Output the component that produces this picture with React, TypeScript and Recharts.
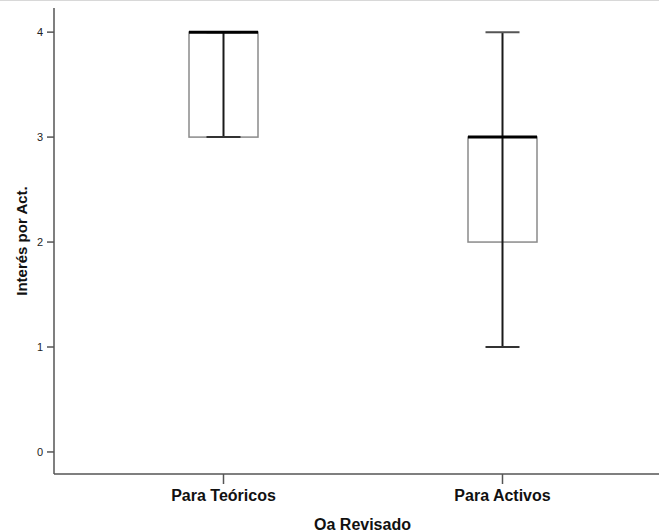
import React from 'react';
import { ComposedChart, Bar, XAxis, YAxis } from 'recharts';

const categories = ['Para Teóricos', 'Para Activos'];
const minValues = [3, 1];
const q1Values = [3, 2];
const medianValues = [4, 3];
const q3Values = [4, 3];
const maxValues = [4, 4];
const yTicks = [0, 1, 2, 3, 4];

const data = categories.map((name, i) => ({
  name,
  min: minValues[i],
  q1: q1Values[i],
  median: medianValues[i],
  q3: q3Values[i],
  max: maxValues[i],
  range: [minValues[i], maxValues[i]],
}));

const font = '"Liberation Sans", Arial, sans-serif';

// one box per category, positions derived from the range bar geometry
const BoxShape = (props: any) => {
  const { x, y, width, height, payload } = props;
  const { min, q1, median, q3, max } = payload;
  const span = max - min || 1;
  const toY = (v: number) => y + ((max - v) / span) * height;
  const cx = x + width / 2;
  const capHalf = 17;
  return (
    <g>
      <rect
        x={x}
        y={toY(q3)}
        width={width}
        height={toY(q1) - toY(q3)}
        fill="none"
        stroke="#8a8a8a"
        strokeWidth={1.5}
      />
      <line x1={cx} x2={cx} y1={toY(max)} y2={toY(min)} stroke="#1a1a1a" strokeWidth={2} />
      <line x1={cx - capHalf} x2={cx + capHalf} y1={toY(max)} y2={toY(max)} stroke="#555" strokeWidth={2} />
      <line x1={cx - capHalf} x2={cx + capHalf} y1={toY(min)} y2={toY(min)} stroke="#333" strokeWidth={2} />
      <line x1={x} x2={x + width} y1={toY(median)} y2={toY(median)} stroke="#000" strokeWidth={3} />
    </g>
  );
};

export default function App() {
  return (
    <div style={{ position: 'absolute', left: 0, top: 0, width: 659, height: 532, background: '#fff' }}>
      <div style={{ position: 'absolute', left: 0, top: 0, width: 659, height: 1, background: '#d8d8d8' }} />
      <ComposedChart
        width={659}
        height={532}
        data={data}
        margin={{ top: 8, right: 0, bottom: 0, left: 0 }}
      >
        <XAxis
          dataKey="name"
          type="category"
          height={58}
          padding={{ left: 30, right: 17 }}
          axisLine={{ stroke: '#555', strokeWidth: 1.5 }}
          tickLine={{ stroke: '#555', strokeWidth: 1.5 }}
          tickSize={10}
          tickMargin={6}
          tick={{ fill: '#111', fontSize: 16, fontWeight: 'bold', fontFamily: font }}
          label={{
            value: 'Oa Revisado',
            position: 'insideBottom',
            offset: 2,
            dx: 6,
            fill: '#111',
            fontSize: 16,
            fontWeight: 'bold',
            fontFamily: font,
          }}
        />
        <YAxis
          type="number"
          domain={[-0.21, 4.23]}
          ticks={yTicks}
          width={54}
          axisLine={{ stroke: '#555', strokeWidth: 1.5 }}
          tickLine={{ stroke: '#555', strokeWidth: 1.5 }}
          tickSize={7}
          tickMargin={4}
          tick={{ fill: '#222', fontSize: 11, fontFamily: font }}
          label={{
            value: 'Interés por Act.',
            angle: -90,
            position: 'center',
            dx: -5,
            fill: '#111',
            fontSize: 15,
            fontWeight: 'bold',
            fontFamily: font,
          }}
        />
        <Bar dataKey="range" barSize={69} shape={BoxShape} isAnimationActive={false} />
      </ComposedChart>
    </div>
  );
}
